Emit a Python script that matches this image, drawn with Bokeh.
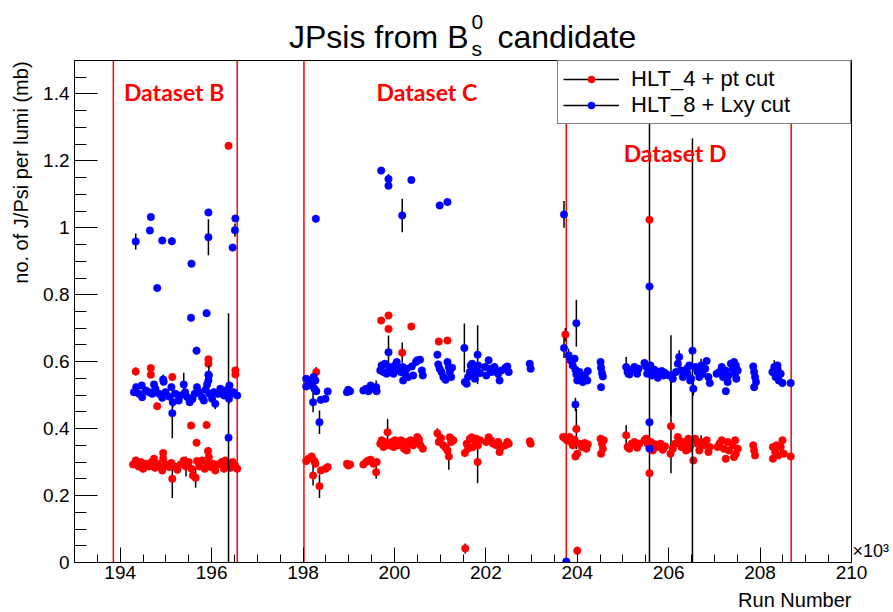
import math
from bokeh.plotting import figure
from bokeh.layouts import column, row
from bokeh.models import (Range1d, SingleIntervalTicker, FixedTicker, CustomJSTickFormatter, Span, Label,
                          Legend, LegendItem, ColumnDataSource, LinearAxis)
from bokeh.embed import file_html
from bokeh.resources import INLINE

# ---------------- data: (run number / 1000, J/Psi per lumi [mb], error) ----------------
dataset_bounds = [193.85, 196.56, 198.02, 203.76, 208.68]
dataset_names = ["Dataset B", "Dataset C", "Dataset D"]
x_title = "Run Number"
x_multiplier = "\u00d710\u00b3"
y_title = "no. of J/Psi per lumi (mb)"
series_names = ["HLT_4 + pt cut", "HLT_8 + Lxy cut"]

red_B = [
    (194.28,0.293,0.01),(194.34,0.305,0.01),(194.40,0.287,0.01),(194.45,0.300,0.01),(194.50,0.280,0.01),
    (194.56,0.295,0.01),(194.63,0.287,0.01),(194.69,0.300,0.01),(194.74,0.310,0.01),(194.76,0.283,0.01),
    (194.81,0.295,0.01),(194.88,0.287,0.01),(194.92,0.275,0.01),(194.94,0.327,0.01),(194.94,0.310,0.01),
    (194.99,0.293,0.01),(195.07,0.285,0.01),(195.12,0.297,0.01),(195.14,0.250,0.057),(195.20,0.287,0.01),
    (195.25,0.277,0.01),(195.32,0.293,0.01),(195.39,0.305,0.01),(195.44,0.287,0.03),(195.50,0.300,0.01),
    (195.56,0.280,0.01),(195.59,0.260,0.01),(195.65,0.253,0.03),(195.68,0.303,0.01),(195.73,0.287,0.01),
    (195.79,0.305,0.01),(195.85,0.280,0.01),(195.90,0.295,0.01),(195.92,0.333,0.01),(195.94,0.315,0.03),
    (195.98,0.285,0.01),(196.03,0.295,0.01),(196.08,0.275,0.01),(196.14,0.293,0.01),(196.22,0.300,0.01),
    (196.27,0.280,0.01),(196.30,0.305,0.01),(196.36,0.290,0.01),(196.41,0.283,0.01),(196.46,0.300,0.01),
    (196.51,0.290,0.01),(196.56,0.280,0.01),
    (194.34,0.571,0.012),(194.67,0.581,0.01),(194.67,0.561,0.01),(195.14,0.554,0.01),(194.81,0.467,0.01),
    (195.55,0.409,0.01),(195.89,0.411,0.01),(195.67,0.358,0.01),(195.93,0.607,0.01),(195.93,0.594,0.01),
    (196.52,0.574,0.01),(196.52,0.562,0.01),(196.37,1.245,0.01),
]
red_C = [
    (198.07,0.303,0.01),(198.12,0.310,0.01),(198.19,0.317,0.01),(198.25,0.303,0.015),(198.27,0.295,0.01),
    (198.22,0.260,0.03),(198.36,0.228,0.035),(198.39,0.275,0.01),(198.49,0.280,0.01),(198.54,0.285,0.01),
    (198.96,0.295,0.01),(198.99,0.290,0.01),(199.03,0.293,0.01),(199.32,0.293,0.01),(199.38,0.300,0.01),
    (199.43,0.305,0.01),(199.48,0.307,0.01),(199.54,0.295,0.01),(199.60,0.270,0.02),(199.61,0.300,0.01),
    (199.69,0.355,0.01),(199.72,0.365,0.01),(199.76,0.345,0.01),(199.79,0.360,0.01),(199.85,0.389,0.04),
    (199.89,0.350,0.01),(199.94,0.360,0.01),(199.98,0.345,0.01),(200.01,0.365,0.01),(200.05,0.355,0.01),
    (200.09,0.350,0.01),(200.14,0.365,0.01),(200.18,0.355,0.01),(200.21,0.340,0.01),(200.23,0.360,0.01),
    (200.27,0.335,0.01),(200.30,0.355,0.01),(200.35,0.365,0.01),(200.41,0.350,0.01),(200.45,0.360,0.01),
    (200.50,0.375,0.01),(200.54,0.367,0.01),(200.57,0.350,0.01),(200.62,0.340,0.01),
    (200.94,0.386,0.015),(200.97,0.360,0.01),(201.02,0.372,0.01),(201.07,0.350,0.01),(201.12,0.343,0.01),
    (201.16,0.335,0.01),(201.19,0.317,0.04),(201.21,0.374,0.01),(201.24,0.360,0.01),(201.29,0.365,0.01),
    (201.54,0.327,0.01),(201.58,0.355,0.01),(201.61,0.340,0.01),(201.65,0.370,0.01),(201.69,0.374,0.01),
    (201.72,0.345,0.01),(201.76,0.365,0.01),(201.79,0.370,0.01),(201.82,0.300,0.063),(201.83,0.350,0.01),
    (201.87,0.365,0.01),(202.01,0.360,0.01),(202.06,0.374,0.01),(202.11,0.365,0.01),(202.16,0.355,0.01),
    (202.23,0.350,0.01),(202.27,0.360,0.01),(202.30,0.330,0.01),(202.34,0.345,0.01),(202.43,0.350,0.01),
    (202.47,0.360,0.01),(202.50,0.355,0.01),(202.96,0.362,0.01),(202.98,0.355,0.01),
    (198.29,0.569,0.015),(199.71,0.723,0.01),(199.87,0.738,0.01),(199.87,0.698,0.01),(200.37,0.705,0.01),
    (200.17,0.627,0.03),(200.97,0.660,0.01),(201.16,0.663,0.01),(201.55,0.042,0.015),
]
red_D = [
    (203.69,0.375,0.01),(203.74,0.370,0.015),(203.78,0.365,0.01),(203.83,0.375,0.01),(203.87,0.360,0.01),
    (203.90,0.350,0.01),(203.94,0.367,0.01),(203.96,0.317,0.01),(204.00,0.325,0.01),(204.05,0.355,0.01),
    (204.10,0.345,0.01),(204.16,0.357,0.01),(204.20,0.340,0.01),(204.23,0.353,0.01),
    (204.51,0.370,0.01),(204.54,0.355,0.01),(204.56,0.340,0.02),(204.58,0.365,0.01),(204.52,0.325,0.01),
    (205.07,0.380,0.03),(205.10,0.345,0.01),(205.14,0.340,0.01),(205.19,0.355,0.01),(205.25,0.360,0.01),
    (205.31,0.343,0.01),(205.36,0.355,0.01),(205.47,0.365,0.01),(205.505,0.370,0.01),(205.54,0.355,0.01),
    (205.61,0.360,0.01),(205.65,0.335,0.01),(205.70,0.353,0.01),(205.76,0.345,0.01),(205.82,0.355,0.01),
    (205.87,0.337,0.01),(205.92,0.347,0.01),(206.04,0.325,0.01),(206.09,0.340,0.01),(206.14,0.355,0.01),
    (206.20,0.375,0.01),(206.23,0.365,0.01),(206.28,0.345,0.01),(206.33,0.360,0.01),(206.38,0.335,0.01),
    (206.43,0.370,0.01),(206.47,0.347,0.01),
    (206.41,0.355,0.01),(206.45,0.340,0.01),(206.49,0.365,0.01),(206.58,0.370,0.01),(206.63,0.355,0.01),
    (206.67,0.335,0.01),(206.71,0.360,0.02),(206.78,0.350,0.01),(206.83,0.365,0.01),(206.87,0.330,0.01),
    (206.90,0.345,0.01),(207.07,0.345,0.01),(207.11,0.355,0.01),(207.16,0.365,0.01),(207.21,0.340,0.01),
    (207.25,0.310,0.01),(207.29,0.360,0.01),(207.32,0.335,0.01),(207.40,0.350,0.01),(207.455,0.365,0.01),
    (207.47,0.325,0.01),(207.51,0.340,0.01),(207.43,0.315,0.01),(207.85,0.350,0.01),(207.87,0.335,0.01),
    (207.89,0.320,0.01),(208.28,0.345,0.01),(208.33,0.330,0.01),(208.36,0.350,0.01),(208.40,0.320,0.01),
    (208.45,0.345,0.02),(208.49,0.365,0.01),(208.52,0.325,0.01),(208.28,0.310,0.01),(208.67,0.317,0.01),
    (203.74,0.681,0.02),(203.98,0.399,0.06),(205.58,1.024,1.1),(205.58,0.267,0.01),(206.05,0.407,0.14),
    (206.54,0.305,0.01),(204.00,0.035,0.012),
]

blue_B = [
    (194.30,0.509,0.01),(194.35,0.524,0.01),(194.41,0.504,0.01),(194.47,0.529,0.01),(194.48,0.494,0.01),
    (194.56,0.514,0.01),(194.63,0.509,0.01),(194.70,0.504,0.01),(194.74,0.532,0.01),(194.77,0.519,0.01),
    (194.85,0.504,0.01),(194.92,0.492,0.01),(194.94,0.547,0.015),(194.95,0.540,0.01),(194.99,0.509,0.01),
    (195.07,0.496,0.01),(195.12,0.524,0.01),(195.15,0.479,0.015),(195.14,0.446,0.075),(195.21,0.504,0.01),
    (195.28,0.484,0.01),(195.32,0.499,0.01),(195.39,0.532,0.035),(195.42,0.509,0.01),(195.47,0.494,0.01),
    (195.52,0.479,0.01),(195.58,0.489,0.01),(195.63,0.504,0.025),(195.68,0.524,0.01),(195.73,0.509,0.01),
    (195.79,0.494,0.01),(195.83,0.484,0.01),(195.87,0.516,0.01),(195.90,0.532,0.01),(195.94,0.559,0.03),
    (195.95,0.504,0.01),(196.01,0.489,0.01),(196.05,0.509,0.01),(196.08,0.474,0.015),(196.14,0.504,0.01),
    (196.19,0.519,0.01),(196.23,0.509,0.01),(196.27,0.499,0.01),(196.34,0.516,0.01),(196.38,0.489,0.015),
    (196.39,0.529,0.01),(196.43,0.504,0.01),(196.48,0.509,0.01),(196.56,0.499,0.01),
    (195.93,0.561,0.01),(195.93,0.544,0.01),
    (194.34,0.959,0.024),(194.67,1.032,0.01),(194.65,0.992,0.01),(194.92,0.962,0.01),(195.13,0.960,0.01),
    (195.56,0.893,0.01),(194.81,0.820,0.01),(195.93,1.046,0.01),(195.93,0.972,0.054),(196.52,1.028,0.01),
    (196.51,0.993,0.02),(196.46,0.941,0.01),(195.55,0.731,0.01),(195.89,0.745,0.01),(195.67,0.633,0.012),
    (196.37,0.373,0.372),
]
blue_C = [
    (198.07,0.549,0.01),(198.07,0.526,0.01),(198.14,0.539,0.01),(198.19,0.529,0.01),(198.23,0.554,0.01),
    (198.27,0.544,0.02),(198.25,0.519,0.01),(198.29,0.512,0.01),(198.22,0.479,0.03),(198.36,0.419,0.035),
    (198.39,0.486,0.01),(198.49,0.489,0.01),(198.54,0.511,0.01),(198.96,0.509,0.01),(198.99,0.516,0.01),
    (199.03,0.512,0.01),(199.32,0.514,0.01),(199.38,0.519,0.01),(199.43,0.512,0.01),(199.48,0.529,0.01),
    (199.54,0.519,0.01),(199.60,0.524,0.02),(199.61,0.512,0.01),
    (199.69,0.574,0.01),(199.72,0.589,0.01),(199.76,0.569,0.01),(199.79,0.594,0.01),(199.83,0.564,0.01),
    (199.87,0.628,0.05),(199.89,0.584,0.01),(199.94,0.574,0.01),(199.98,0.564,0.01),(200.01,0.589,0.01),
    (200.05,0.599,0.01),(200.09,0.579,0.01),(200.14,0.569,0.01),(200.18,0.584,0.01),(200.19,0.544,0.01),
    (200.23,0.564,0.01),(200.27,0.579,0.01),(200.30,0.554,0.01),(200.38,0.586,0.01),(200.41,0.559,0.01),
    (200.47,0.599,0.01),(200.50,0.604,0.01),(200.56,0.606,0.01),(200.60,0.574,0.01),(200.62,0.559,0.01),
    (200.94,0.621,0.01),(200.96,0.592,0.01),(200.99,0.579,0.01),(201.03,0.569,0.01),(201.07,0.554,0.01),
    (201.12,0.546,0.01),(201.16,0.599,0.01),(201.19,0.584,0.02),(201.21,0.569,0.01),(201.24,0.554,0.01),
    (201.26,0.582,0.01),(201.53,0.641,0.073),(201.54,0.539,0.01),(201.58,0.534,0.01),(201.61,0.554,0.01),
    (201.65,0.569,0.01),(201.67,0.589,0.01),(201.70,0.594,0.01),(201.72,0.564,0.01),(201.76,0.549,0.01),
    (201.79,0.579,0.01),(201.82,0.621,0.088),(201.83,0.589,0.01),(201.87,0.566,0.01),(201.98,0.584,0.01),
    (202.01,0.559,0.01),(202.06,0.604,0.01),(202.09,0.579,0.01),(202.12,0.569,0.01),(202.19,0.584,0.01),
    (202.23,0.569,0.01),(202.27,0.564,0.01),(202.30,0.544,0.01),(202.34,0.574,0.01),(202.43,0.582,0.01),
    (202.47,0.586,0.01),(202.50,0.569,0.01),(202.96,0.594,0.01),(202.98,0.579,0.01),
    (198.28,1.027,0.01),(199.71,1.171,0.01),(199.87,1.146,0.015),(199.87,1.126,0.01),(200.37,1.143,0.01),
    (200.17,1.037,0.05),(200.99,1.067,0.01),(201.16,1.077,0.01),
]
blue_D = [
    (203.71,0.641,0.03),(203.81,0.619,0.02),(203.85,0.604,0.01),(203.90,0.589,0.01),(203.94,0.609,0.01),
    (203.96,0.576,0.01),(203.98,0.562,0.01),(204.00,0.544,0.01),(204.05,0.569,0.01),(204.09,0.554,0.01),
    (204.12,0.539,0.01),(204.17,0.559,0.01),(204.22,0.544,0.01),(204.23,0.572,0.01),
    (204.51,0.599,0.01),(204.52,0.582,0.01),(204.54,0.566,0.02),(204.56,0.556,0.01),(204.52,0.524,0.01),
    (205.07,0.584,0.03),(205.10,0.569,0.01),(205.14,0.562,0.01),(205.19,0.576,0.01),(205.25,0.584,0.01),
    (205.31,0.564,0.01),(205.34,0.579,0.01),(205.47,0.596,0.01),(205.505,0.586,0.01),(205.53,0.564,0.01),
    (205.56,0.574,0.01),(205.60,0.589,0.01),(205.63,0.559,0.01),(205.69,0.576,0.01),(205.72,0.564,0.01),
    (205.76,0.552,0.01),(205.80,0.569,0.01),(205.85,0.572,0.01),(205.89,0.559,0.01),(205.92,0.566,0.01),
    (206.01,0.559,0.01),(206.05,0.559,0.12),(206.09,0.549,0.01),(206.16,0.569,0.01),(206.20,0.594,0.01),
    (206.23,0.614,0.02),(206.27,0.574,0.01),(206.31,0.554,0.01),(206.36,0.564,0.01),(206.40,0.579,0.01),
    (206.45,0.589,0.01),(206.49,0.549,0.01),
    (206.41,0.564,0.01),(206.47,0.544,0.01),(206.58,0.584,0.01),(206.63,0.569,0.01),(206.67,0.554,0.01),
    (206.71,0.589,0.02),(206.74,0.564,0.01),(206.80,0.579,0.01),(206.83,0.602,0.01),(206.87,0.554,0.01),
    (206.90,0.536,0.01),(207.05,0.564,0.01),(207.11,0.569,0.01),(207.16,0.584,0.01),(207.19,0.554,0.01),
    (207.24,0.574,0.01),(207.25,0.512,0.01),(207.29,0.539,0.01),(207.31,0.559,0.01),(207.36,0.594,0.01),
    (207.40,0.579,0.01),(207.43,0.599,0.01),(207.455,0.564,0.01),(207.48,0.549,0.01),(207.51,0.574,0.01),
    (207.47,0.589,0.01),(207.85,0.586,0.01),(207.87,0.569,0.01),(207.89,0.554,0.01),(207.91,0.539,0.01),
    (207.87,0.524,0.01),(208.27,0.569,0.01),(208.31,0.584,0.02),(208.34,0.554,0.01),(208.38,0.569,0.01),
    (208.41,0.544,0.01),(208.45,0.564,0.02),(208.49,0.536,0.01),(208.38,0.589,0.01),(208.67,0.536,0.01),
    (203.71,1.040,0.04),(203.98,0.715,0.07),(203.96,0.472,0.02),(205.58,0.825,0.01),(205.58,0.419,0.01),
    (205.58,0.340,0.01),(206.52,0.633,0.634),(206.54,0.519,0.02),(203.76,0.003,0.005),
]

# ---------------- layout (page pixels) ----------------
W, H, TOP = 893, 612, 60
FL, FR, FB = 72, 851, 562
YSTRIP = 40                  # strip left of the plot for the y title
BOT = 24                     # strip below for the x title
MAIN_H = H - TOP - BOT
FONT = "Liberation Sans"


def strip(width, height):
    s = figure(width=width, height=height, output_backend="svg", toolbar_location=None, title=None,
               x_range=Range1d(0, width), y_range=Range1d(height, 0),
               x_axis_location=None, y_axis_location=None,
               min_border=0, min_border_left=0, min_border_right=0, min_border_top=0, min_border_bottom=0,
               outline_line_color=None, background_fill_color="white", border_fill_color="white")
    s.xgrid.visible = False
    s.ygrid.visible = False
    return s


def txt(fig, x, y, text, size, align="left", angle=0.0):
    fig.add_layout(Label(x=x, y=y, text=text, text_align=align, text_baseline="middle", angle=angle,
                         text_font=FONT, text_font_size=size, text_color="black"))


# title strip: "JPsis from B_s^0 candidate"
t = strip(W, TOP)
txt(t, 468, 36, "JPsis from B", "32px", "right")
txt(t, 471, 21, "0", "21px")
txt(t, 471, 48, "s", "21px")
txt(t, 497, 36, "candidate", "32px")

# y title strip
ys = strip(YSTRIP, MAIN_H)
txt(ys, 20, 1, y_title, "20px", "right", math.pi / 2)

# x title strip
bs = strip(W, BOT)
txt(bs, FR, 11, x_title, "20px", "right")

p = figure(width=W - YSTRIP, height=MAIN_H, output_backend="svg", toolbar_location=None, title=None,
           x_range=Range1d(193, 210), y_range=Range1d(0, 1.5),
           min_border_left=FL - YSTRIP, min_border_right=W - FR, min_border_top=0,
           min_border_bottom=MAIN_H - (FB - TOP),
           background_fill_color="white", border_fill_color="white")
p.xgrid.visible = False
p.ygrid.visible = False
p.outline_line_color = "black"
p.outline_line_width = 1

props = set(type(p.xaxis[0]).properties())


def style_axis(ax):
    ax.axis_line_color = "black"
    ax.major_tick_line_color = "black"
    ax.minor_tick_line_color = "black"
    ax.major_tick_out = 0
    ax.minor_tick_out = 0
    ax.major_label_text_font = FONT
    ax.major_label_text_font_size = "19px"
    ax.major_label_text_color = "black"
    ax.axis_label_text_font = FONT
    ax.axis_label_text_font_style = "normal"
    ax.axis_label_text_color = "black"


xa, ya = p.xaxis[0], p.yaxis[0]
style_axis(xa)
style_axis(ya)

xa.ticker = SingleIntervalTicker(interval=2, num_minor_ticks=4)
xa.major_tick_in = 15
xa.minor_tick_in = 8
xa.major_label_standoff = 3

ya.ticker = SingleIntervalTicker(interval=0.2, num_minor_ticks=4)
ya.formatter = CustomJSTickFormatter(code="return Number(tick.toFixed(2)).toString();")
ya.major_tick_in = 23
ya.minor_tick_in = 12
ya.major_label_standoff = 5

# the x10^3 multiplier: tick-less axis label on the right, at the bottom end
# (a trailing empty line lifts it to sit beside the last tick label, as in the original)
ra = LinearAxis(ticker=FixedTicker(ticks=[]), axis_label=x_multiplier + "\n ")
style_axis(ra)
ra.axis_line_color = None
ra.major_label_text_font_size = "0px"
ra.axis_label_standoff = 1
ra.axis_label_text_font_size = "18px"
ra.axis_label_orientation = "horizontal"
if "axis_label_align" in props:
    ra.axis_label_align = "start"
p.add_layout(ra, "right")

# dataset boundary lines (below the points)
for b in dataset_bounds:
    p.add_layout(Span(location=b, dimension="height", line_color="red", line_width=1.5, level="underlay"))


def build(parts):
    xs, yv, es = [], [], []
    for part in parts:
        for (x, y, e) in part:
            xs.append(x)
            yv.append(y)
            es.append(e)
    return ColumnDataSource(dict(x=xs, y=yv, lo=[a - b for a, b in zip(yv, es)],
                                 hi=[a + b for a, b in zip(yv, es)]))


src_red = build([red_B, red_C, red_D])
src_blue = build([blue_B, blue_C, blue_D])

renderers = []
for src, col in ((src_red, "#ff0000"), (src_blue, "#0000ff")):
    r_err = p.segment(x0="x", y0="lo", x1="x", y1="hi", source=src, line_color="black", line_width=1.5)
    r_pts = p.scatter(x="x", y="y", source=src, size=7.5, fill_color=col, line_color=col, line_width=0.5)
    renderers.append((r_err, r_pts))

legend = Legend(items=[LegendItem(label=series_names[0], renderers=list(renderers[0])),
                       LegendItem(label=series_names[1], renderers=list(renderers[1]))],
                location="top_right", margin=0, padding=5, spacing=0,
                glyph_width=56, glyph_height=18, label_height=18, label_width=214, label_standoff=12,
                label_text_font=FONT, label_text_font_size="22px", label_text_color="black",
                border_line_color="black", border_line_width=1,
                background_fill_color="white", background_fill_alpha=1.0)
p.add_layout(legend)

# dataset names (data coordinates, inside the frame)
for name, (x, y) in zip(dataset_names, [(195.18, 1.406), (200.71, 1.406), (206.14, 1.224)]):
    p.add_layout(Label(x=x, y=y, text=name, text_align="center", text_baseline="middle",
                       text_font="Lato", text_font_style="bold", text_font_size="23px", text_color="#ff0000"))

layout = column(t, row(ys, p, spacing=0), bs, spacing=0)
open("out.html", "w").write(file_html(layout, INLINE))
